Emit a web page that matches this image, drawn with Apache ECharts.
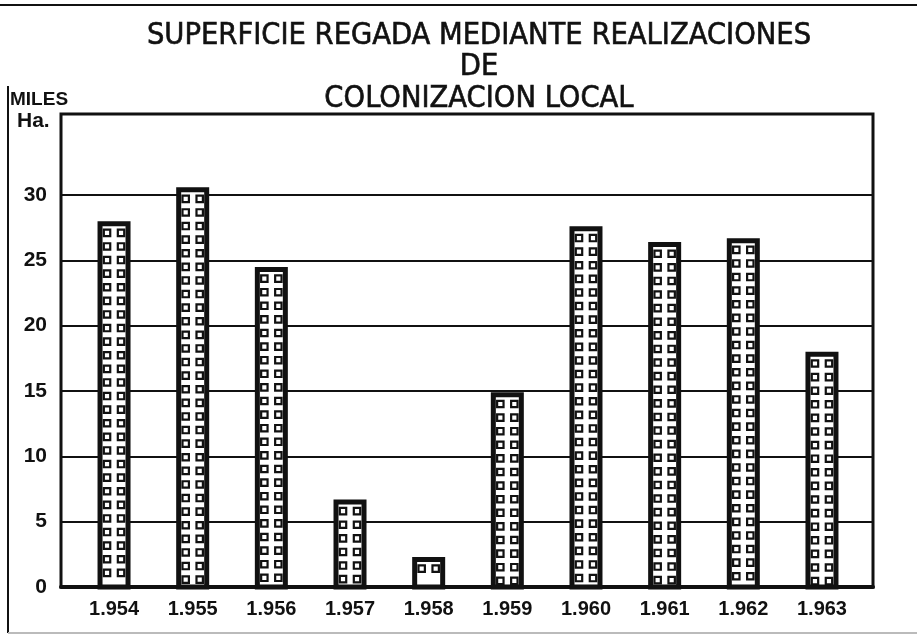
<!DOCTYPE html>
<html>
<head>
<meta charset="utf-8">
<script src="https://cdn.jsdelivr.net/npm/echarts@6/dist/echarts.min.js"></script>
<style>
html,body{margin:0;padding:0;background:#fff;}
#chart{width:917px;height:635px;}
</style>
</head>
<body>
<div id="chart"></div>
<script>
var years = ['1.954','1.955','1.956','1.957','1.958','1.959','1.960','1.961','1.962','1.963'];
var values = [28.0, 30.6, 24.5, 6.7, 2.3, 14.9, 27.6, 26.4, 26.7, 18.0];
var yMax = 36.2;
var yInterval = 5;
var yLabelMax = 30;
var titleText = 'SUPERFICIE REGADA MEDIANTE REALIZACIONES\nDE\nCOLONIZACION LOCAL';

var INK = '#111';
var chart = echarts.init(document.getElementById('chart'), null, {renderer: 'canvas'});

function renderBar(params, api) {
  var idx = api.value(0);
  var v = api.value(1);
  var top = api.coord([idx, v]);
  var base = api.coord([idx, 0]);
  var cx = top[0];
  var bw = 33, border = 5;
  var children = [];
  children.push({
    type: 'rect',
    shape: {x: cx - bw / 2 + border / 2, y: top[1] + border / 2, width: bw - border, height: base[1] - top[1] - border / 2},
    style: {fill: '#fff', stroke: INK, lineWidth: border}
  });
  var sq = 6.4, lw = 2.2, pitch = 13.6, offs = [-7, 7];
  for (var y = top[1] + border + 3.5; y + sq <= base[1] - 2; y += pitch) {
    for (var k = 0; k < offs.length; k++) {
      children.push({
        type: 'rect',
        shape: {x: cx + offs[k] - sq / 2, y: y, width: sq, height: sq},
        style: {fill: '#fff', stroke: INK, lineWidth: lw}
      });
    }
  }
  return {type: 'group', children: children};
}

var splitColors = [];
(function(){
  for (var t = 0; t <= yMax + 1e-9; t += yInterval) splitColors.push(t <= yLabelMax ? INK : 'rgba(0,0,0,0)');
  splitColors.push(INK);
})();

var option = {
  backgroundColor: '#fff',
  animation: false,
  title: {
    text: titleText,
    left: 474, top: 15, textAlign: 'center',
    textStyle: {fontFamily: '"Liberation Sans Narrow", "DejaVu Sans Condensed", "Liberation Sans", sans-serif', fontWeight: 'normal', fontSize: 30.5, lineHeight: 31.5, color: INK, textBorderColor: INK, textBorderWidth: 0.6}
  },
  grid: [
    {left: 61, right: 44, top: 114, bottom: 48, show: true, borderColor: INK, borderWidth: 3, backgroundColor: 'transparent'},
    {left: 74.7, right: 55.7, top: 114, bottom: 48}
  ],
  xAxis: [
    {gridIndex: 0, type: 'value', min: 0, max: 1, show: true,
     axisLabel: {show: false}, axisTick: {show: false}, splitLine: {show: false},
     axisLine: {show: true, lineStyle: {color: INK, width: 4}}},
    {gridIndex: 1, type: 'category', data: years,
     axisLine: {show: false}, axisTick: {show: false},
     axisLabel: {margin: 12, color: INK, fontFamily: '"Liberation Sans Narrow", "Liberation Sans", Arial, sans-serif', fontWeight: 'bold', fontSize: 20}}
  ],
  yAxis: [
    {gridIndex: 0, type: 'value', min: 0, max: yMax, interval: yInterval,
     axisLine: {show: false}, axisTick: {show: false},
     axisLabel: {margin: 14, color: INK, fontFamily: '"Liberation Sans", Arial, sans-serif', fontWeight: 'bold', fontSize: 21,
       formatter: function (v) { return (Math.abs(v % yInterval) < 1e-6 && v <= yLabelMax) ? String(Math.round(v)) : ''; }},
     splitLine: {show: true, lineStyle: {color: splitColors, width: 2}}},
    {gridIndex: 1, type: 'value', min: 0, max: yMax, show: false}
  ],
  graphic: [
    {type: 'line', shape: {x1: 0, y1: 5, x2: 917, y2: 5}, style: {stroke: INK, lineWidth: 2}},
    {type: 'line', shape: {x1: 8, y1: 86, x2: 8, y2: 633}, style: {stroke: INK, lineWidth: 2}},
    {type: 'line', shape: {x1: 8, y1: 633, x2: 917, y2: 633}, style: {stroke: '#bbb', lineWidth: 2}},
    {type: 'text', left: 10, top: 90, style: {text: 'MILES', fill: INK, font: 'bold 19px "Liberation Sans Narrow", "Liberation Sans", sans-serif'}},
    {type: 'text', left: 17, top: 111, style: {text: 'Ha.', fill: INK, font: 'bold 21px "Liberation Sans", sans-serif'}}
  ],
  series: [{
    type: 'custom',
    xAxisIndex: 1, yAxisIndex: 1,
    renderItem: renderBar,
    encode: {x: 0, y: 1},
    data: values.map(function (v, i) { return [i, v]; })
  }]
};
chart.setOption(option);
</script>
</body>
</html>
